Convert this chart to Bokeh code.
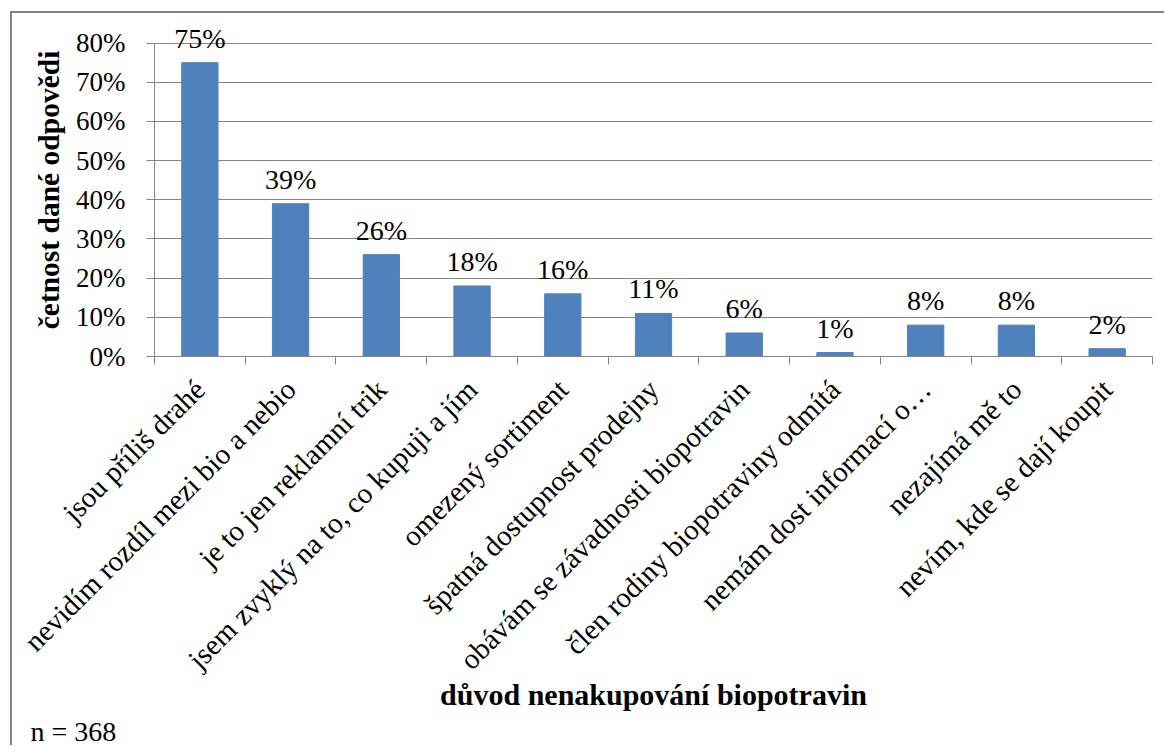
import math
from bokeh.plotting import figure
from bokeh.models import (ColumnDataSource, LabelSet, Title, NumeralTickFormatter,
                          FixedTicker, Range1d)
from bokeh.core.properties import value
from bokeh.embed import file_html
from bokeh.resources import INLINE

categories = ["jsou příliš drahé", "nevidím rozdíl mezi bio a nebio", "je to jen reklamní trik",
              "jsem zvyklý na to, co kupuji a jím", "omezený sortiment", "špatná dostupnost prodejny",
              "obávám se závadnosti biopotravin", "člen rodiny biopotraviny odmítá",
              "nemám dost informací o…", "nezajímá mě to", "nevím, kde se dají koupit"]
values = [0.75, 0.39, 0.26, 0.18, 0.16, 0.11, 0.06, 0.01, 0.08, 0.08, 0.02]
value_labels = ["75%", "39%", "26%", "18%", "16%", "11%", "6%", "1%", "8%", "8%", "2%"]
y_ticks = [0.0, 0.1, 0.2, 0.3, 0.4, 0.5, 0.6, 0.7, 0.8]
y_title = "četnost dané odpovědi"
x_title = "důvod nenakupování biopotravin"
note = "n = 368"

FONT = "'Liberation Serif', 'Times New Roman', serif"
GRAY = "#868686"
BAR = "#4F81BD"

n = len(categories)
centers = [i + 0.5 for i in range(n)]
bounds = [float(i) for i in range(n + 1)]

src = ColumnDataSource(dict(x=centers, top=values, lab=value_labels))

p = figure(width=1154, height=734, output_backend="svg", toolbar_location=None,
           x_range=Range1d(0, n), y_range=Range1d(0, 0.85),
           min_border_left=142, min_border_right=14, min_border_top=10, min_border_bottom=391,
           styles={"margin-left": "10px", "margin-top": "11px",
                   "border-left": "2px solid #868686", "border-top": "2px solid #868686"})
p.outline_line_color = None
p.background_fill_color = "white"
p.border_fill_color = "white"

p.vbar(x="x", top="top", width=0.4, source=src, fill_color=BAR, line_color=BAR)

# y axis
p.yaxis.ticker = FixedTicker(ticks=y_ticks, minor_ticks=[])
p.yaxis.bounds = (0, 0.8)
p.yaxis.formatter = NumeralTickFormatter(format="0%")
p.yaxis.major_label_text_font = FONT
p.yaxis.major_label_text_font_size = "27px"
p.yaxis.major_label_text_color = "black"
p.yaxis.major_tick_in = 0
p.yaxis.major_tick_out = 8
p.yaxis.minor_tick_in = 0
p.yaxis.minor_tick_out = 0
p.yaxis.major_tick_line_color = GRAY
p.yaxis.axis_line_color = GRAY
p.yaxis.major_label_standoff = 21
p.yaxis.axis_label = y_title
p.yaxis.axis_label_text_font = FONT
p.yaxis.axis_label_text_font_size = "29.5px"
p.yaxis.axis_label_text_font_style = "bold"
p.yaxis.axis_label_text_color = "black"
p.yaxis.axis_label_standoff = 8

# x axis
p.xaxis.ticker = FixedTicker(ticks=centers, minor_ticks=bounds)
p.xaxis.major_label_overrides = {c: cat for c, cat in zip(centers, categories)}
p.xaxis.major_label_orientation = math.pi / 4
p.xaxis.major_label_text_font = FONT
p.xaxis.major_label_text_font_size = "29px"
p.xaxis.major_label_text_color = "black"
p.xaxis.major_tick_in = 0
p.xaxis.major_tick_out = 0
p.xaxis.minor_tick_in = 0
p.xaxis.minor_tick_out = 8
p.xaxis.minor_tick_line_color = GRAY
p.xaxis.axis_line_color = GRAY
p.xaxis.major_label_standoff = 20
p.xaxis.axis_label = x_title
p.xaxis.axis_label_text_font = FONT
p.xaxis.axis_label_text_font_size = "30px"
p.xaxis.axis_label_text_font_style = "bold"
p.xaxis.axis_label_text_color = "black"
p.xaxis.axis_label_text_line_height = 1.0
p.xaxis.axis_label_standoff = -12

p.xgrid.visible = False
p.ygrid.ticker = FixedTicker(ticks=y_ticks)
p.ygrid.grid_line_color = GRAY
p.ygrid.grid_line_width = 1

labels = LabelSet(x="x", y="top", text="lab", source=src, y_offset=15,
                  text_align="center", text_baseline="alphabetic",
                  text_font=value(FONT), text_font_size="28px", text_color="black")
p.add_layout(labels)

p.add_layout(Title(text=note, align="left", offset=-124, text_font=FONT,
                   text_font_size="28px", text_font_style="normal", text_color="black",
                   text_line_height=1.0, standoff=0), "below")

open("out.html", "w").write(file_html(p, INLINE))
